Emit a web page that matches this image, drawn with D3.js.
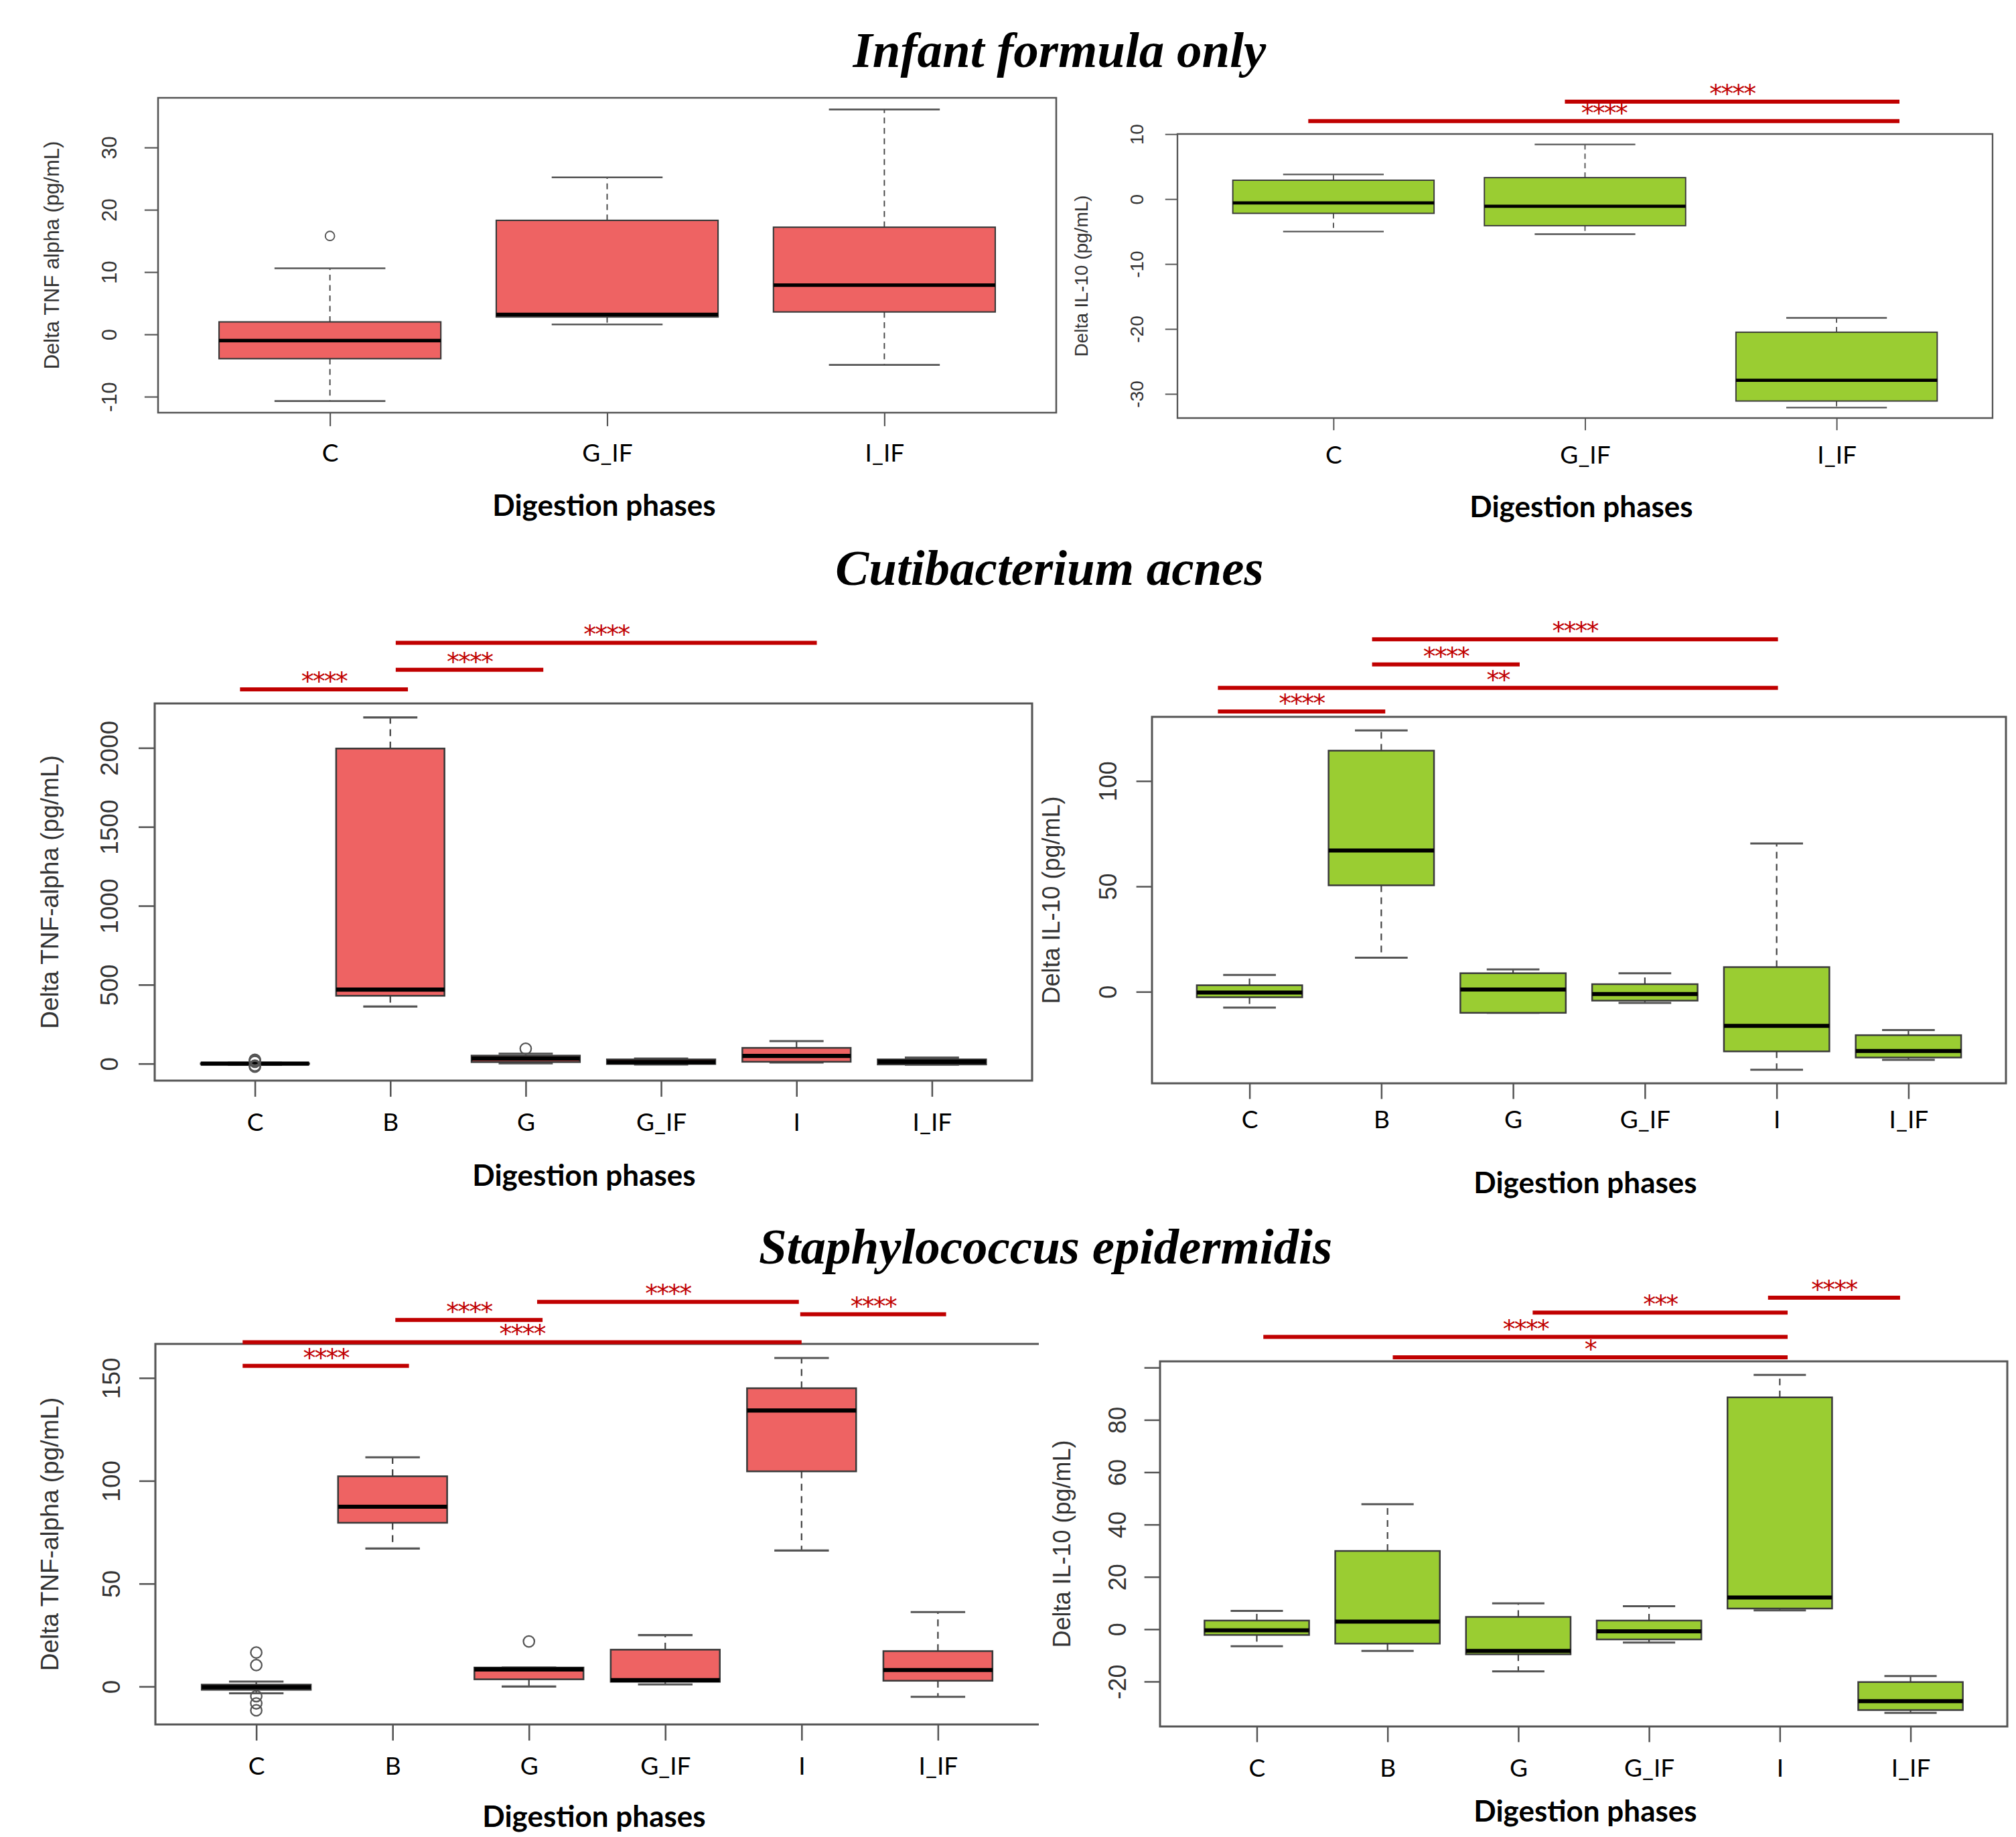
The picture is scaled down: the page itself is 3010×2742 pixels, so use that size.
<!DOCTYPE html>
<html>
<head>
<meta charset="utf-8">
<script src="https://cdn.jsdelivr.net/npm/d3@7"></script>
<style>
  body { margin: 0; background: #fff; }
  svg { display: block; }
</style>
</head>
<body>
<svg id="fig"></svg>
<script>
const W = 3010, H = 2742;

// digestion phases
const phasesIF = ['C', 'G_IF', 'I_IF'];
const phasesAll = ['C', 'B', 'G', 'G_IF', 'I', 'I_IF'];

// box stats per phase: [lower whisker, Q1, median, Q3, upper whisker]
const tnfInfant = [[-10.7, -3.9, -1.0, 2.0, 10.6], [1.6, 2.8, 3.2, 18.3, 25.2], [-4.9, 3.6, 7.9, 17.2, 36.1]];
const tnfInfantOut = [[15.8], [], []];

const il10Infant = [[-5.0, -2.2, -0.6, 2.9, 3.8], [-5.4, -4.1, -1.1, 3.3, 8.4], [-32.1, -31.1, -27.9, -20.5, -18.3]];
const il10InfantOut = [[], [], []];

const tnfCuti = [[-6, -2, 0, 2, 6], [362, 430, 469, 1996, 2193], [2, 10, 32, 51, 63],
  [-5, -2, 10, 27, 32], [7, 12, 49, 100, 143], [-7, -5, 12, 27, 39]];
const tnfCutiOut = [[-19, -12, 12, 19, 25], [], [95], [], [], []];

const il10Cuti = [[-7.5, -2.6, -0.4, 3.1, 8.0], [16.2, 50.5, 67, 114.4, 124], [-10, -10, 1.1, 8.8, 10.6],
  [-5.3, -4.2, -1.1, 3.6, 8.8], [-37.0, -28.3, -16.2, 11.7, 70.4], [-32.3, -31.2, -28.1, -20.6, -18.2]];
const il10CutiOut = [[], [], [], [], [], []];

const tnfStaph = [[-3.3, -1.6, -0.3, 0.9, 2.4], [67.1, 79.6, 87.4, 102.2, 111.4], [0, 3.5, 8.3, 9.2, 9.2],
  [1.0, 2.3, 3.1, 17.9, 25.0], [66.1, 104.6, 134.2, 145.0, 159.7], [-5.0, 2.8, 8.0, 17.2, 36.2]];
const tnfStaphOut = [[16.5, 10.4, -4.7, -8.2, -11.6], [], [21.9], [], [], []];

const il10Staph = [[-6.5, -2.2, -0.4, 3.3, 7.0], [-8.3, -5.5, 2.9, 29.9, 47.8], [-16.1, -9.6, -8.3, 4.7, 9.9],
  [-5.1, -3.9, -0.8, 3.3, 8.8], [7.2, 7.9, 12.1, 88.6, 97.2], [-32.0, -30.9, -27.5, -20.2, -17.9]];
const il10StaphOut = [[], [], [], [], [], []];

// y tick values and labels
const ticksTnfInfant = [-10, 0, 10, 20, 30];
const ticksIl10Infant = [-30, -20, -10, 0, 10];
const ticksTnfCuti = [0, 500, 1000, 1500, 2000];
const ticksIl10Cuti = [0, 50, 100];
const ticksTnfStaph = [0, 50, 100, 150];
const ticksIl10Staph = [-20, 0, 20, 40, 60, 80, 100];
const tickLabelsIl10Staph = ['-20', '0', '20', '40', '60', '80', ''];

// significance bars: [from phase pos, to phase pos, y value, stars]
const sigIl10Infant = [[1.92, 3.25, 15.0, '****'], [0.90, 3.25, 12.0, '****']];
const sigTnfCuti = [[0.89, 2.13, 2371, '****'], [2.04, 3.13, 2495, '****'], [2.04, 5.15, 2666, '****']];
const sigIl10Cuti = [[1.93, 5.01, 167.2, '****'], [1.93, 3.05, 155.3, '****'], [0.76, 5.01, 144.2, '**'], [0.76, 2.03, 133.0, '****']];
const sigTnfStaph = [[3.06, 4.98, 187.0, '****'], [4.99, 6.06, 181.0, '****'], [2.02, 3.10, 178.2, '****'],
  [0.90, 5.00, 167.4, '****'], [0.90, 2.12, 155.9, '****']];
const sigIl10Staph = [[4.91, 5.92, 126.7, '****'], [3.11, 5.06, 121.0, '***'], [1.05, 5.06, 111.7, '****'], [2.04, 5.06, 103.9, '*']];

const RED = '#EE6363';
const GREEN = '#9ACD32';
const SIG = '#C00000';
const rFont = 'Liberation Sans, Arial, sans-serif';
const cFont = 'Lato, Carlito, sans-serif';

const panels = [
  {cats: phasesIF, stats: tnfInfant, out: tnfInfantOut, ticks: ticksTnfInfant, fill: RED, sig: [],
   ylab: 'Delta TNF alpha (pg/mL)', left: 236, right: 1577, top: 146, bottom: 616, fs: 31,
   ylabX: 77, tickLabX: 163, catY: 689, xtX: 902, xtY: 770},
  {cats: phasesIF, stats: il10Infant, out: il10InfantOut, ticks: ticksIl10Infant, fill: GREEN, sig: sigIl10Infant,
   ylab: 'Delta IL-10 (pg/mL)', left: 1758, right: 2975, top: 200, bottom: 624, fs: 28,
   ylabX: 1614, tickLabX: 1697, catY: 692, xtX: 2361, xtY: 772},
  {cats: phasesAll, stats: tnfCuti, out: tnfCutiOut, ticks: ticksTnfCuti, fill: RED, sig: sigTnfCuti,
   ylab: 'Delta TNF-alpha (pg/mL)', left: 231, right: 1541, top: 1050, bottom: 1613, fs: 37,
   ylabX: 74, tickLabX: 163, catY: 1688, xtX: 872, xtY: 1770},
  {cats: phasesAll, stats: il10Cuti, out: il10CutiOut, ticks: ticksIl10Cuti, fill: GREEN, sig: sigIl10Cuti,
   ylab: 'Delta IL-10 (pg/mL)', left: 1720, right: 2995, top: 1070, bottom: 1617, fs: 36,
   ylabX: 1569, tickLabX: 1654, catY: 1684, xtX: 2367, xtY: 1781},
  {cats: phasesAll, stats: tnfStaph, out: tnfStaphOut, ticks: ticksTnfStaph, fill: RED, sig: sigTnfStaph,
   ylab: 'Delta TNF-alpha (pg/mL)', left: 232, right: 1551, top: 2006, bottom: 2574, fs: 37,
   ylabX: 74, tickLabX: 166, catY: 2649, xtX: 887, xtY: 2727, openRight: true},
  {cats: phasesAll, stats: il10Staph, out: il10StaphOut, ticks: ticksIl10Staph, tickLabels: tickLabelsIl10Staph,
   fill: GREEN, sig: sigIl10Staph,
   ylab: 'Delta IL-10 (pg/mL)', left: 1732, right: 2997, top: 2032, bottom: 2577, fs: 36,
   ylabX: 1585, tickLabX: 1668, catY: 2652, xtX: 2367, xtY: 2719}
];

const titles = [
  {text: 'Infant formula only', x: 1582, y: 100},
  {text: 'Cutibacterium acnes', x: 1567, y: 873},
  {text: 'Staphylococcus epidermidis', x: 1561, y: 1886}
];

const svg = d3.select('#fig').attr('width', W).attr('height', H);
svg.append('rect').attr('width', W).attr('height', H).attr('fill', '#fff');

function drawPanel(p) {
  const n = p.cats.length;
  const k = p.fs / 36;
  const pad = 0.04 * n;
  const x = d3.scaleLinear().domain([0.5 - pad, n + 0.5 + pad]).range([p.left, p.right]);
  const [lo, hi] = d3.extent(p.stats.flat().concat(p.out.flat()));
  const ext = 0.04 * (hi - lo);
  const y = d3.scaleLinear().domain([lo - ext, hi + ext]).range([p.bottom, p.top]);
  const g = svg.append('g');

  const box = g.selectAll('g.box').data(p.stats).join('g').attr('class', 'box');

  // whiskers, dashed
  [[3, 4], [1, 0]].forEach(([a, b]) => {
    box.append('line')
      .attr('x1', (d, i) => x(i + 1)).attr('x2', (d, i) => x(i + 1))
      .attr('y1', d => y(d[a])).attr('y2', d => y(d[b]))
      .attr('stroke', '#444').attr('stroke-width', 2.2 * k)
      .attr('stroke-dasharray', `${10 * k},${8 * k}`);
  });
  // staples
  [0, 4].forEach(j => {
    box.append('line')
      .attr('x1', (d, i) => x(i + 0.8)).attr('x2', (d, i) => x(i + 1.2))
      .attr('y1', d => y(d[j])).attr('y2', d => y(d[j]))
      .attr('stroke', '#555').attr('stroke-width', 3 * k);
  });
  box.append('rect')
    .attr('x', (d, i) => x(i + 0.6))
    .attr('width', x(1.4) - x(0.6))
    .attr('y', d => y(d[3]))
    .attr('height', d => y(d[1]) - y(d[3]))
    .attr('fill', p.fill)
    .attr('stroke', '#3a3a3a').attr('stroke-width', 2.5 * k);
  box.append('line')
    .attr('x1', (d, i) => x(i + 0.6)).attr('x2', (d, i) => x(i + 1.4))
    .attr('y1', d => y(d[2])).attr('y2', d => y(d[2]))
    .attr('stroke', '#000').attr('stroke-width', 6 * k);

  g.selectAll('circle.out')
    .data(p.out.flatMap((vals, i) => vals.map(v => ({i, v}))))
    .join('circle').attr('class', 'out')
    .attr('cx', d => x(d.i + 1)).attr('cy', d => y(d.v))
    .attr('r', 8 * k)
    .attr('fill', 'none').attr('stroke', '#555').attr('stroke-width', 2.2 * k);

  // plot frame
  const frame = p.openRight
    ? `M${p.right},${p.top}H${p.left}V${p.bottom}H${p.right}`
    : `M${p.left},${p.top}H${p.right}V${p.bottom}H${p.left}Z`;
  g.append('path').attr('d', frame).attr('fill', 'none')
    .attr('stroke', '#555').attr('stroke-width', 3 * k);

  // y axis
  const labels = p.tickLabels || p.ticks.map(String);
  const ya = g.append('g').attr('transform', `translate(${p.left},0)`)
    .call(d3.axisLeft(y).tickValues(p.ticks).tickFormat((d, i) => labels[i])
      .tickSize(0.65 * p.fs));
  ya.select('.domain').remove();
  ya.attr('font-size', p.fs).attr('font-family', rFont);
  ya.selectAll('.tick line').attr('stroke', '#555').attr('stroke-width', 2.5 * k);
  ya.selectAll('.tick text')
    .attr('x', 0).attr('y', 0).attr('dy', '0.36em')
    .attr('text-anchor', 'middle').attr('fill', '#333')
    .attr('transform', `translate(${p.tickLabX - p.left},0) rotate(-90)`);

  g.append('text')
    .attr('transform', `translate(${p.ylabX},${(p.top + p.bottom) / 2}) rotate(-90)`)
    .attr('text-anchor', 'middle').attr('dy', '0.36em')
    .attr('font-family', rFont).attr('font-size', p.fs).attr('fill', '#333')
    .text(p.ylab);

  // x axis
  const xa = g.append('g').attr('transform', `translate(0,${p.bottom})`)
    .call(d3.axisBottom(x).tickValues(d3.range(1, n + 1)).tickFormat(d => p.cats[d - 1])
      .tickSize(0.65 * p.fs));
  xa.select('.domain').remove();
  xa.attr('font-size', 37).attr('font-family', cFont);
  xa.selectAll('.tick line').attr('stroke', '#555').attr('stroke-width', 2.5 * k);
  xa.selectAll('.tick text').attr('y', p.catY - p.bottom).attr('dy', 0).attr('fill', '#000');

  g.append('text')
    .attr('x', p.xtX).attr('y', p.xtY)
    .attr('text-anchor', 'middle')
    .attr('font-family', cFont).attr('font-weight', 700).attr('font-size', 44)
    .text('Digestion phases');

  // significance bars
  g.selectAll('line.sig').data(p.sig).join('line').attr('class', 'sig')
    .attr('x1', d => x(d[0])).attr('x2', d => x(d[1]))
    .attr('y1', d => y(d[2])).attr('y2', d => y(d[2]))
    .attr('stroke', SIG).attr('stroke-width', 6);
  g.selectAll('text.sig').data(p.sig).join('text').attr('class', 'sig')
    .attr('x', d => (x(d[0]) + x(d[1])) / 2)
    .attr('y', d => y(d[2]) + 1)
    .attr('text-anchor', 'middle')
    .attr('font-family', 'DejaVu Sans, sans-serif').attr('font-size', 38)
    .attr('letter-spacing', -2).attr('fill', SIG)
    .text(d => d[3]);
}

panels.forEach(drawPanel);

svg.selectAll('text.title').data(titles).join('text').attr('class', 'title')
  .attr('x', d => d.x).attr('y', d => d.y)
  .attr('text-anchor', 'middle')
  .attr('font-family', 'Liberation Serif, Times New Roman, serif')
  .attr('font-weight', 700).attr('font-style', 'italic').attr('font-size', 75)
  .text(d => d.text);
</script>
</body>
</html>
